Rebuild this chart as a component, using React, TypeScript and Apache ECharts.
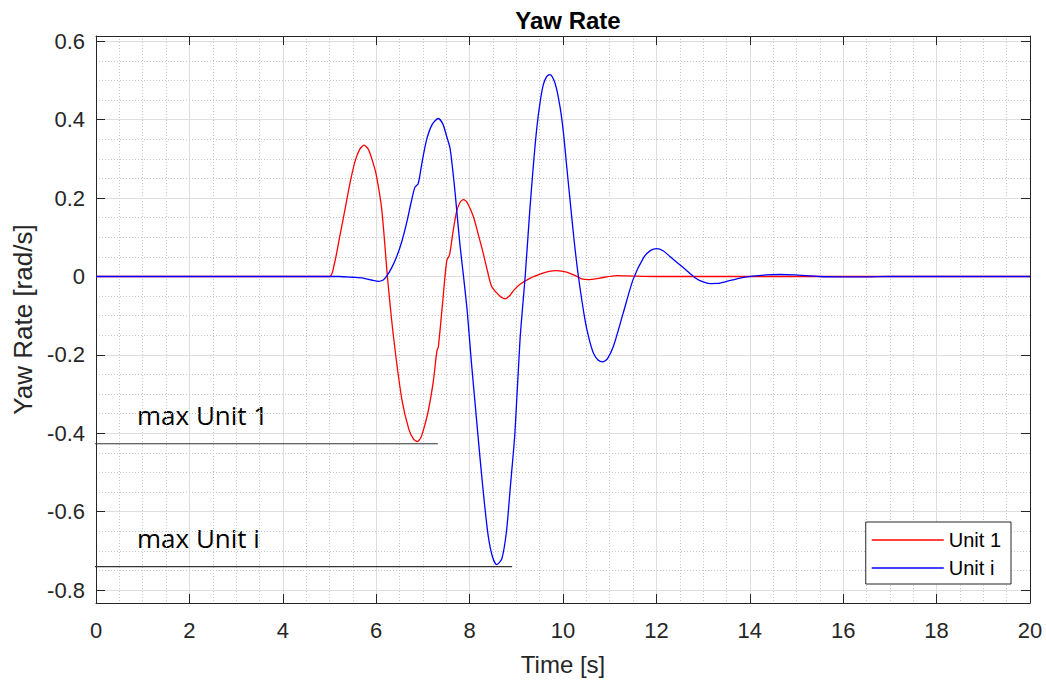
import React, { useEffect, useRef } from "react";
import * as echarts from "echarts";

// ---------- data ----------
const time1 = [0, 5.0, 5.1, 5.22, 5.33, 5.44, 5.55, 5.65, 5.74, 5.83, 5.92, 6.0, 6.12, 6.24, 6.37, 6.55, 6.7, 6.8, 6.88, 6.96, 7.05, 7.12, 7.22, 7.3, 7.33, 7.42, 7.51, 7.57, 7.64, 7.72, 7.8, 7.87, 7.95, 8.08, 8.18, 8.29, 8.38, 8.47, 8.58, 8.67, 8.76, 8.85, 8.94, 9.08, 9.3, 9.51, 9.7, 9.86, 10.0, 10.15, 10.3, 10.4, 10.54, 10.79, 11.15, 11.5, 12, 20];
const unit1 = [0, 0, 0.03, 0.102, 0.17, 0.239, 0.295, 0.325, 0.335, 0.325, 0.295, 0.26, 0.17, 0.0, -0.153, -0.314, -0.39, -0.415, -0.421, -0.41, -0.375, -0.34, -0.27, -0.19, -0.18, -0.07, 0.04, 0.055, 0.11, 0.165, 0.19, 0.196, 0.188, 0.153, 0.11, 0.06, 0.015, -0.025, -0.042, -0.052, -0.057, -0.05, -0.036, -0.02, -0.004, 0.006, 0.013, 0.015, 0.013, 0.008, 0.0, -0.006, -0.008, -0.004, 0.002, 0.001, 0, 0];

const timeI = [0, 5.2, 5.5, 5.72, 5.9, 6.05, 6.15, 6.22, 6.33, 6.44, 6.55, 6.65, 6.75, 6.83, 6.9, 6.98, 7.08, 7.2, 7.33, 7.43, 7.51, 7.58, 7.64, 7.69, 7.79, 7.87, 7.95, 8.04, 8.13, 8.22, 8.31, 8.4, 8.49, 8.58, 8.69, 8.79, 8.87, 8.97, 9.08, 9.19, 9.29, 9.37, 9.44, 9.51, 9.58, 9.65, 9.72, 9.79, 9.86, 9.94, 10.01, 10.08, 10.15, 10.24, 10.33, 10.47, 10.56, 10.65, 10.75, 10.85, 10.95, 11.08, 11.29, 11.5, 11.72, 11.87, 12.01, 12.15, 12.29, 12.58, 12.86, 13.0, 13.15, 13.36, 13.79, 14.07, 14.35, 14.65, 14.95, 15.5, 16.0, 16.5, 17, 20];
const unitI = [0, 0, -0.002, -0.004, -0.009, -0.0125, -0.009, 0, 0.022, 0.051, 0.09, 0.136, 0.19, 0.228, 0.237, 0.29, 0.349, 0.388, 0.403, 0.388, 0.357, 0.328, 0.27, 0.213, 0.085, 0.0, -0.09, -0.221, -0.34, -0.459, -0.57, -0.663, -0.715, -0.735, -0.72, -0.65, -0.54, -0.4, -0.16, 0.0, 0.17, 0.29, 0.38, 0.445, 0.49, 0.51, 0.515, 0.505, 0.48, 0.43, 0.366, 0.28, 0.196, 0.09, 0, -0.11, -0.16, -0.195, -0.213, -0.218, -0.21, -0.178, -0.093, -0.008, 0.047, 0.066, 0.071, 0.065, 0.051, 0.022, -0.006, -0.014, -0.018, -0.017, -0.004, 0.001, 0.004, 0.005, 0.004, 0.0, -0.001, -0.001, 0, 0];

const yTicks = [-0.8, -0.6, -0.4, -0.2, 0, 0.2, 0.4, 0.6];
const yMinor = [-0.75, -0.7, -0.65, -0.55, -0.5, -0.45, -0.35, -0.3, -0.25, -0.15, -0.1, -0.05, 0.05, 0.1, 0.15, 0.25, 0.3, 0.35, 0.45, 0.5, 0.55];

const maxUnit1Line = [[-0.02, -0.4267], [7.32, -0.4267]];
const maxUnitILine = [[-0.3, -0.74], [8.91, -0.74]];
const annotLabels = ["max Unit 1", "max Unit i"];

const X_MIN = 0, X_MAX = 20, Y_MIN = -0.833, Y_MAX = 0.6135;

const FONT = "'Liberation Sans', Arial, Helvetica, sans-serif";
const AXIS_COLOR = "#262626";

export default function App() {
  const ref = useRef<HTMLDivElement>(null);
  useEffect(() => {
    const chart = echarts.init(ref.current!, null, { renderer: "svg" });
    const pair = (t: number[], v: number[]) => t.map((x, i) => [x, v[i]]);
    const option: any = {
      animation: false,
      backgroundColor: "#ffffff",
      title: {
        text: "Yaw Rate",
        left: 563,
        textAlign: "center",
        top: 3,
        textStyle: { fontFamily: FONT, fontSize: 24, fontWeight: "bold", color: "#000" },
      },
      grid: { left: 96, right: 16, top: 36, bottom: 81, containLabel: false },
      legend: {
        data: ["Unit 1", "Unit i"],
        orient: "vertical",
        right: 35,
        bottom: 100,
        icon: "rect",
        itemWidth: 72,
        itemHeight: 1.5,
        itemGap: 8,
        padding: [8, 10, 6, 6],
        borderColor: AXIS_COLOR,
        borderWidth: 1,
        borderRadius: 0,
        backgroundColor: "#ffffff",
        textStyle: { fontFamily: FONT, fontSize: 20, color: "#000", lineHeight: 20 },
      },
      xAxis: [
        {
          type: "value", min: X_MIN, max: X_MAX, interval: 2,
          name: "Time [s]", nameLocation: "middle", nameGap: 49,
          nameTextStyle: { fontFamily: FONT, fontSize: 24, color: AXIS_COLOR },
          axisLine: { show: true, onZero: false, lineStyle: { color: AXIS_COLOR, width: 1 } },
          axisTick: { show: true, inside: true, length: 9, lineStyle: { color: AXIS_COLOR } },
          axisLabel: { fontFamily: FONT, fontSize: 22, color: AXIS_COLOR, margin: 16 },
          splitLine: { show: true, lineStyle: { color: "#dedede", width: 1 } },
          minorTick: { show: false, splitNumber: 4 },
          minorSplitLine: { show: true, lineStyle: { color: "#c8c8c8", width: 1, type: [1, 2] } },
        },
        {
          type: "value", min: X_MIN, max: X_MAX, interval: 2, position: "top",
          axisLine: { show: true, onZero: false, lineStyle: { color: AXIS_COLOR, width: 1 } },
          axisTick: { show: true, inside: true, length: 9, lineStyle: { color: AXIS_COLOR } },
          axisLabel: { show: false },
          splitLine: { show: false },
        },
      ],
      yAxis: [
        {
          type: "value", min: Y_MIN, max: Y_MAX,
          name: "Yaw Rate [rad/s]", nameLocation: "middle", nameGap: 58,
          nameTextStyle: { fontFamily: FONT, fontSize: 26, color: AXIS_COLOR },
          axisLine: { show: true, onZero: false, lineStyle: { color: AXIS_COLOR, width: 1 } },
          axisTick: { show: true, inside: true, length: 9, customValues: yTicks, lineStyle: { color: AXIS_COLOR } },
          axisLabel: {
            fontFamily: FONT, fontSize: 22, color: AXIS_COLOR, margin: 11, customValues: yTicks,
            formatter: (v: number) => String(Math.round(v * 10) / 10),
          },
          splitLine: { show: false },
        },
        {
          type: "value", min: Y_MIN, max: Y_MAX, position: "right",
          axisLine: { show: true, onZero: false, lineStyle: { color: AXIS_COLOR, width: 1 } },
          axisTick: { show: true, inside: true, length: 9, customValues: yTicks, lineStyle: { color: AXIS_COLOR } },
          axisLabel: { show: false },
          splitLine: { show: false },
        },
      ],
      series: [
        {
          name: "grid",
          type: "line",
          data: [[0, 0]],
          symbol: "none",
          lineStyle: { opacity: 0 },
          silent: true,
          z: 0,
          markLine: {
            silent: true,
            z: 0,
            symbol: ["none", "none"],
            label: { show: false },
            data: [
              ...yMinor.map((v) => ({ yAxis: v, lineStyle: { color: "#c8c8c8", width: 1, type: [1, 2] } })),
              ...yTicks.map((v) => ({ yAxis: v, lineStyle: { color: "#dedede", width: 1, type: "solid" } })),
            ],
          },
        },
        {
          name: "Unit 1",
          type: "line",
          data: pair(time1, unit1),
          symbol: "none",
          smooth: 0.25,
          lineStyle: { color: "#ff0000", width: 1.3 },
          itemStyle: { color: "#ff0000" },
          z: 3,
        },
        {
          name: "Unit i",
          type: "line",
          data: pair(timeI, unitI),
          symbol: "none",
          smooth: 0.25,
          lineStyle: { color: "#0000ff", width: 1.3 },
          itemStyle: { color: "#0000ff" },
          z: 4,
        },
        {
          name: "annot1",
          type: "line",
          data: maxUnit1Line,
          symbol: "none",
          clip: false,
          silent: true,
          lineStyle: { color: "#333333", width: 1.2 },
          z: 5,
        },
        {
          name: "annotI",
          type: "line",
          data: maxUnitILine,
          symbol: "none",
          clip: false,
          silent: true,
          lineStyle: { color: "#333333", width: 1.2 },
          z: 5,
        },
      ],
      graphic: [
        {
          type: "text", left: 137, top: 402, silent: true,
          style: { text: annotLabels[0], font: "26px 'Open Sans', sans-serif", fill: "#000" },
        },
        {
          type: "text", left: 137, top: 525, silent: true,
          style: { text: annotLabels[1], font: "26px 'Open Sans', sans-serif", fill: "#000" },
        },
      ],
    };
    chart.setOption(option);
    return () => chart.dispose();
  }, []);
  return (
    <div
      ref={ref}
      style={{ position: "absolute", left: 0, top: 0, width: 1046, height: 684 }}
    />
  );
}
